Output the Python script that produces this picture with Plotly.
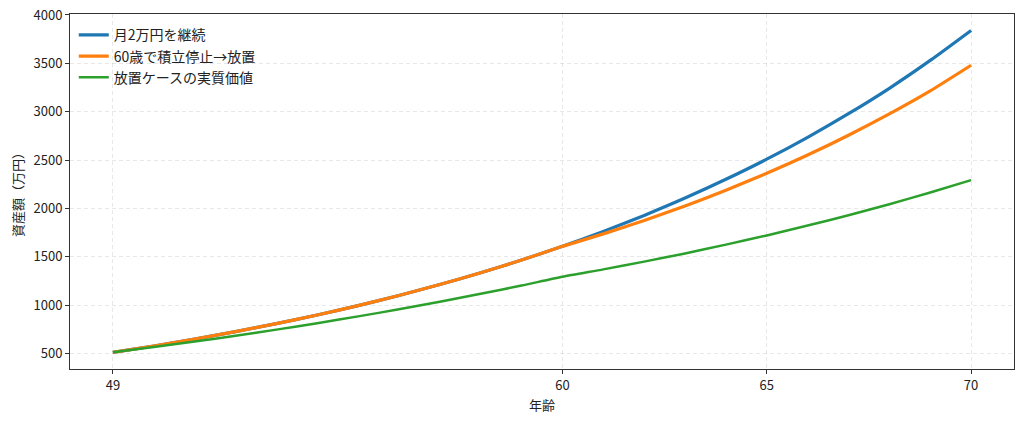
import plotly.graph_objects as go

FONT = "Noto Sans CJK JP"

ages = list(range(49, 71))

# 月2万円を継続
keep_saving = [512, 578, 649, 726, 809, 898, 995, 1100, 1213, 1335, 1466, 1608,
               1762, 1928, 2107, 2301, 2509, 2735, 2979, 3242, 3530, 3840]
# 60歳で積立停止→放置
stop_at_60 = [512, 578, 649, 726, 809, 898, 995, 1100, 1213, 1335, 1466, 1608,
              1737, 1876, 2026, 2188, 2363, 2552, 2757, 2977, 3215, 3480]
# 放置ケースの実質価値
real_value = [512, 567, 624, 684, 747, 814, 884, 957, 1035, 1117, 1203, 1294,
              1370, 1450, 1535, 1626, 1721, 1823, 1930, 2044, 2164, 2293]

x_ticks = [49, 60, 65, 70]
y_ticks = [500, 1000, 1500, 2000, 2500, 3000, 3500, 4000]

series = [
    ("月2万円を継続", keep_saving, "#1f77b4", 3.2),
    ("60歳で積立停止→放置", stop_at_60, "#ff7f0e", 3.2),
    ("放置ケースの実質価値", real_value, "#2ca02c", 2.5),
]

fig = go.Figure()
for name, vals, color, width in series:
    fig.add_trace(go.Scatter(
        x=ages, y=vals, name=name, mode="lines",
        line=dict(color=color, width=width, shape="spline", smoothing=0.6),
    ))

axis_common = dict(
    showline=True, linecolor="#333333", linewidth=1, mirror=True,
    ticks="outside", ticklen=4, tickcolor="#333333",
    showgrid=True, gridcolor="rgba(0,0,0,0.09)", griddash="4px,3px", gridwidth=1,
    zeroline=False, automargin=False, ticklabeloverflow="allow",
    tickfont=dict(family=FONT, size=13, color="#222222"),
)

fig.update_xaxes(
    range=[47.95, 71.05], tickvals=x_ticks,
    title=dict(text="年齢", font=dict(family=FONT, size=13, color="#222222"), standoff=8),
    **axis_common,
)
fig.update_yaxes(
    range=[340, 4010], tickvals=y_ticks,
    title=dict(text="資産額（万円）", font=dict(family=FONT, size=13, color="#222222"), standoff=8),
    **axis_common,
)

# the page body adds an 8px offset, so the margins are shifted to compensate
fig.update_layout(
    width=1024, height=422,
    margin=dict(l=62, r=18, t=6, b=61, autoexpand=False),
    paper_bgcolor="white", plot_bgcolor="white",
    font=dict(family=FONT, size=13, color="#222222"),
    showlegend=True,
    legend=dict(
        x=0.004, y=0.985, xanchor="left", yanchor="top",
        bgcolor="rgba(255,255,255,0)", borderwidth=0,
        font=dict(family=FONT, size=14, color="#222222"),
        tracegroupgap=1,
    ),
)

fig.write_html("out.html")
